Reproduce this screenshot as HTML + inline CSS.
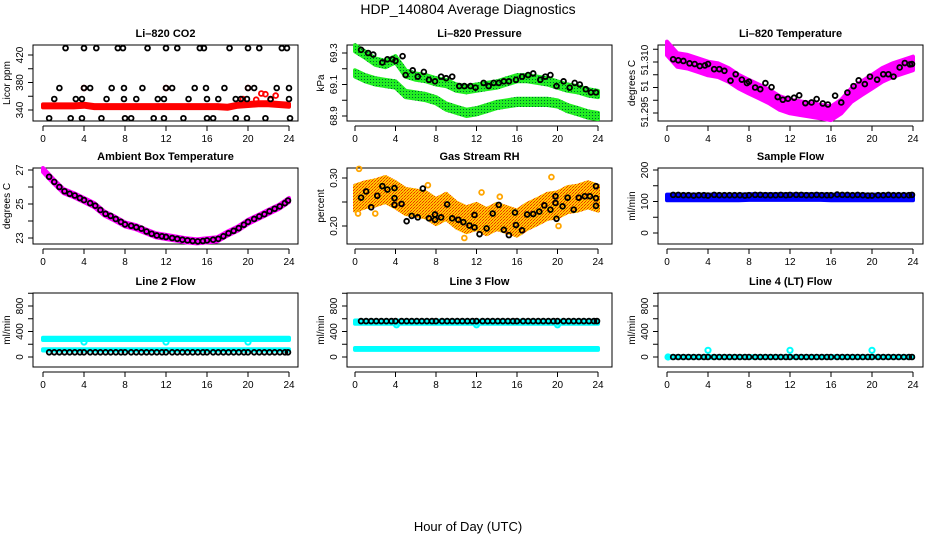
<!DOCTYPE html>
<html><head><meta charset="utf-8"><style>
html,body{margin:0;padding:0;background:#fff;}
svg{display:block;font-family:"Liberation Sans",sans-serif;}
</style></head><body>
<svg id="chart" width="936" height="540" viewBox="0 0 936 540">
<defs>
<pattern id="greenPat" width="3" height="3" patternUnits="userSpaceOnUse"><rect width="3" height="3" fill="#22ee22"/><rect x="1" y="1" width="1" height="1" fill="#063"/></pattern>
<pattern id="rhPat" width="3" height="3" patternUnits="userSpaceOnUse"><rect width="3" height="3" fill="#ffc800"/><rect width="1" height="1" fill="#f03000"/><rect x="2" y="1" width="1" height="1" fill="#f03000"/><rect x="1" y="2" width="1" height="1" fill="#f07000"/></pattern>
</defs>
<text x="468" y="14" text-anchor="middle" font-size="14">HDP_140804  Average Diagnostics</text>
<text x="468" y="531" text-anchor="middle" font-size="13">Hour of Day (UTC)</text>
</svg>
<script>
// ---------- data ----------
const HOURS = [0,1,2,3,4,5,6,7,8,9,10,11,12,13,14,15,16,17,18,19,20,21,22,23,24];
const BLACK_T = [0.6,1.1,1.6,2.1,2.6,3.1,3.6,4.0,4.6,5.1,5.6,6.1,6.6,7.1,7.6,8.0,8.6,9.1,9.6,10.1,10.6,11.1,11.6,12.0,12.6,13.1,13.6,14.1,14.6,15.1,15.6,16.0,16.6,17.1,17.6,18.1,18.6,19.1,19.6,20.0,20.6,21.1,21.6,22.1,22.6,23.1,23.6,23.9];
const X_TICKS = [0,4,8,12,16,20,24];

// CO2
const CO2_RED = [346,346,346,346,347,345,345,345,345,345,345,345,345,345,345,345,345,345,344,347,348,349,349,348,347];
const CO2_RED_OUT_T = [4.0,12.0,20.0,21.3,21.7,22.7,19.5,20.8,22.2];
const CO2_RED_OUT_V = [372,372,372,364,363,361,356,355,355];
const CO2_BLK_T = [2.2,4.0,5.2,7.3,7.8,10.2,12.0,13.1,15.3,15.7,18.2,20.0,21.1,23.3,23.8,
 1.6,4.0,4.6,6.7,7.9,9.7,12.0,12.6,14.8,15.9,17.7,20.0,20.6,22.8,24.0,
 1.1,3.2,3.8,6.2,7.9,9.1,11.2,11.8,14.2,16.0,17.1,18.8,19.3,19.9,22.2,24.0,
 0.6,2.7,3.8,5.7,8.0,8.6,10.8,11.8,13.7,16.0,16.6,18.8,19.9,21.7,24.1];
const CO2_BLK_V = [430,430,430,430,430,430,430,430,430,430,430,430,430,430,430,
 372,372,372,372,372,372,372,372,372,372,372,372,372,372,372,
 356,356,356,356,356,356,356,356,356,356,356,356,356,356,356,356,
 328,328,328,328,328,328,328,328,328,328,328,328,328,328,328];

// Pressure
const P_UP = [69.33,69.29,69.245,69.23,69.26,69.17,69.15,69.14,69.12,69.11,69.08,69.07,69.08,69.09,69.10,69.12,69.14,69.14,69.13,69.12,69.10,69.08,69.07,69.05,69.04];
const P_LOW = [69.17,69.14,69.12,69.11,69.10,69.04,69.03,69.02,69.0,68.96,68.94,68.92,68.93,68.95,68.97,68.98,68.99,68.99,68.99,68.99,68.98,68.95,68.93,68.91,68.90];
const P_BLK_T = [0.6,1.3,1.8,2.7,3.2,3.7,4.0,4.7,5.0,5.7,6.2,6.8,7.3,7.9,8.5,9.0,9.6,10.3,10.8,11.4,11.9,12.7,13.2,13.7,14.2,14.7,15.2,15.9,16.5,17.1,17.6,18.3,18.8,19.3,19.9,20.6,21.2,21.7,22.2,22.8,23.3,23.8];
const P_BLK_V = [69.32,69.30,69.29,69.24,69.26,69.26,69.25,69.28,69.16,69.19,69.15,69.18,69.13,69.12,69.15,69.14,69.15,69.09,69.09,69.09,69.08,69.11,69.09,69.11,69.11,69.12,69.12,69.13,69.15,69.16,69.17,69.13,69.15,69.16,69.09,69.12,69.08,69.11,69.10,69.07,69.05,69.05];

// Li-820 temperature
const T_MAG = [51.314,51.3106,51.3101,51.3091,51.3081,51.3076,51.3062,51.3042,51.3027,51.3013,51.2998,51.2979,51.2969,51.2964,51.2959,51.2954,51.2949,51.2969,51.3003,51.3023,51.3042,51.3062,51.3076,51.3086,51.3096];
const T_BLK_T = [0.6,1.1,1.6,2.2,2.7,3.2,3.7,4.0,4.6,5.1,5.6,6.2,6.7,7.3,7.8,8.0,8.6,9.1,9.6,10.2,10.8,11.3,11.8,12.4,12.9,13.5,14.1,14.6,15.2,15.7,16.4,17.0,17.6,18.2,18.7,19.3,19.8,20.5,21.1,21.6,22.1,22.7,23.2,23.7,23.9];
const T_BLK_V = [51.3108,51.3105,51.3103,51.3096,51.3094,51.3088,51.309,51.3094,51.3079,51.3079,51.3074,51.3045,51.3064,51.3048,51.3038,51.3042,51.3025,51.302,51.3038,51.3026,51.2997,51.2989,51.2992,51.2995,51.3002,51.2979,51.2981,51.2991,51.2978,51.2975,51.3001,51.2981,51.301,51.3029,51.3046,51.3035,51.3057,51.3048,51.3064,51.3064,51.3057,51.3084,51.3097,51.3093,51.3094];
const T_TICKS = [51.295,51.29875,51.3025,51.30625,51.31,51.31375];

// Ambient box temperature
const AMB_MAG = [27.0,26.35,25.76,25.52,25.23,24.93,24.44,24.14,23.8,23.65,23.4,23.16,23.06,22.96,22.86,22.8,22.86,22.92,23.26,23.55,23.95,24.24,24.54,24.83,25.23];
const AMB_BLK = [26.6,26.3,26.0,25.75,25.6,25.5,25.35,25.23,25.05,24.9,24.65,24.42,24.3,24.12,23.95,23.8,23.72,23.63,23.55,23.38,23.25,23.15,23.1,23.06,23.0,22.95,22.9,22.86,22.82,22.8,22.82,22.86,22.9,22.95,23.1,23.28,23.42,23.58,23.78,23.95,24.12,24.27,24.4,24.57,24.72,24.86,25.05,25.2];

// Gas stream RH
const RH_BAND = [0.258,0.265,0.269,0.276,0.265,0.251,0.248,0.244,0.23,0.241,0.223,0.213,0.22,0.209,0.22,0.213,0.206,0.22,0.23,0.241,0.244,0.255,0.258,0.265,0.258];
const RH_OUT_T = [0.4,0.3,2.0,7.2,10.8,14.3,19.4,20.1,12.5];
const RH_OUT_V = [0.319,0.226,0.226,0.285,0.175,0.261,0.302,0.2,0.27];
const RH_BLK_T = [0.6,1.1,1.6,2.2,2.7,3.2,3.9,3.9,3.9,4.6,5.1,5.6,6.2,6.7,7.3,7.9,7.9,8.5,9.1,9.6,10.2,10.7,11.3,11.8,11.8,12.3,13.0,13.6,14.2,14.7,15.2,15.8,15.9,16.5,17.0,17.6,18.2,18.7,19.3,19.8,19.8,19.9,20.5,21.0,21.6,22.1,22.7,23.2,23.8,23.8,23.8];
const RH_BLK_V = [0.259,0.272,0.239,0.263,0.283,0.276,0.279,0.258,0.244,0.246,0.21,0.221,0.218,0.278,0.216,0.224,0.213,0.218,0.245,0.216,0.213,0.208,0.201,0.223,0.197,0.183,0.195,0.226,0.244,0.192,0.181,0.228,0.202,0.191,0.224,0.225,0.23,0.243,0.234,0.248,0.262,0.215,0.241,0.259,0.234,0.259,0.262,0.262,0.283,0.258,0.242];

// Sample flow
const SF_BLUE = [113,113,113,113,113,113,113,113,114,114,114,114,114,114,114,114,113,113,113,113,113,113,113,113,113];
const SF_BLK = [121,121,120,120,119,120,120,119,121,120,120,120,120,120,119,120,121,121,120,120,120,121,120,121,121,121,120,120,121,120,120,120,122,121,121,120,121,120,119,119,120,120,121,120,120,120,120,121];

// Line 2 flow
const L2_CY_HI = [285,285,285,285,285,285,285,285,285,285,285,285,285,285,285,285,285,285,285,285,285,285,285,285,285];
const L2_CY_LO = [112,112,112,112,112,112,112,112,112,112,112,112,112,112,112,112,112,112,112,112,112,112,112,112,112];
const L2_DIP_T = [4.0,12.0,20.0];
const L2_DIP_V = [235,235,235];
const L2_BLK = [74,74,74,74,74,74,74,74,74,74,74,74,74,74,74,74,74,74,74,74,74,74,74,74,74,74,74,74,74,74,74,74,74,74,74,74,74,74,74,74,74,74,74,74,74,74,74,74];

// Line 3 flow
const L3_CY_HI = [548,548,548,548,548,548,548,548,548,548,548,548,548,548,548,548,548,548,548,548,548,548,548,548,548];
const L3_CY_LO = [126,126,126,126,126,126,126,126,126,126,126,126,126,126,126,126,126,126,126,126,126,126,126,126,126];
const L3_DIP_T = [4.1,12.0,20.0];
const L3_DIP_V = [505,505,505];
const L3_BLK = [563,563,563,563,563,563,563,563,563,563,563,563,563,563,563,563,563,563,563,563,563,563,563,563,563,563,563,563,563,563,563,563,563,563,563,563,563,563,563,563,563,563,563,563,563,563,563,563];

// Line 4 flow
const L4_CY = [0,0,0,0,0,0,0,0,0,0,0,0,0,0,0,0,0,0,0,0,0,0,0,0,0];
const L4_OUT_T = [0.1,4.0,12.0,20.0];
const L4_OUT_V = [0,105,105,105];
const L4_BLK = [0,0,0,0,0,0,0,0,0,0,0,0,0,0,0,0,0,0,0,0,0,0,0,0,0,0,0,0,0,0,0,0,0,0,0,0,0,0,0,0,0,0,0,0,0,0,0,0];

// ---------- drawing ----------
const NS = 'http://www.w3.org/2000/svg';
const svg = document.getElementById('chart');
function mk(tag, attrs, parent){
  const e = document.createElementNS(NS, tag);
  for (const k in attrs) e.setAttribute(k, attrs[k]);
  (parent||svg).appendChild(e);
  return e;
}
const COLS = [{l:33,r:298,x0:43,x24:289},{l:347,r:612,x0:355,x24:598},{l:658,r:923,x0:667,x24:913}];
const ROWS = [{t:45,b:121},{t:168,b:244},{t:293,b:367}];

function panel(name, col, row, title, ylab, y0v, y0p, y1v, y1p, yticks, ylabels){
  const C = COLS[col], R = ROWS[row];
  const g = mk('g', {});
  
  
  const sx = h => C.x0 + (h/24)*(C.x24 - C.x0);
  const sy = v => y0p + (v - y0v)/(y1v - y0v)*(y1p - y0p);
  const t = mk('text', {x:(C.l+C.r)/2, y:R.t-8, 'text-anchor':'middle', 'font-size':11, 'font-weight':'bold'}, g);
  t.textContent = title;
  
  
  const box = mk('rect', {x:C.l, y:R.t, width:C.r-C.l, height:R.b-R.t, fill:'none', stroke:'#000', 'stroke-width':1}, g);
  
  
  const xa = mk('g', {}, g);
  
  
  const ay = R.b + 5;
  mk('line', {x1:sx(0), x2:sx(24), y1:ay, y2:ay, stroke:'#000'}, xa);
  X_TICKS.forEach(h => {
    mk('line', {x1:sx(h), x2:sx(h), y1:ay, y2:ay+5, stroke:'#000'}, xa);
    const tl = mk('text', {x:sx(h), y:R.b+21, 'text-anchor':'middle', 'font-size':10}, xa);
    tl.textContent = String(h);
    
    
  });
  const ya = mk('g', {}, g);
  
  
  yticks.forEach(v => mk('line', {x1:C.l-5, x2:C.l, y1:sy(v), y2:sy(v), stroke:'#000'}, ya));
  ylabels.forEach(o => {
    const yy = o.p !== undefined ? o.p : sy(o.v);
    const tl = mk('text', {x:0, y:0, 'text-anchor':'middle', 'font-size':10, transform:'translate(' + (C.l-10) + ',' + yy + ') rotate(-90)'}, ya);
    tl.textContent = o.t;
    
    
  });
  const yt = mk('text', {x:0, y:0, 'text-anchor':'middle', 'font-size':10, transform:'translate(' + (C.l-23) + ',' + ((R.t+R.b)/2) + ') rotate(-90)'}, g);
  yt.textContent = ylab;
  
  
  const plot = mk('g', {}, g);
  
  
  return {sx, sy, plot};
}
function band(P, name, centers, hw, fill){
  const up = HOURS.map((h,i) => P.sx(h).toFixed(1) + ',' + P.sy(centers[i]+hw).toFixed(1));
  const dn = HOURS.map((h,i) => P.sx(h).toFixed(1) + ',' + P.sy(centers[i]-hw).toFixed(1)).reverse();
  const poly = mk('polygon', {points: up.concat(dn).join(' '), fill: fill, stroke: fill, 'stroke-width':4, 'stroke-linejoin':'round'}, P.plot);
  
  
}
function pts(P, name, ts, vs, color, r, w){
  ts.forEach((h,i) => {
    const c = mk('circle', {cx:P.sx(h), cy:P.sy(vs[i]), r:r||2.4, fill:'none', stroke:color, 'stroke-width':w||1.8}, P.plot);
    
    
  });
}

let P = panel('co2', 0, 0, 'Li–820 CO2', 'Licor ppm', 340, 110, 420, 55, [340,360,380,400,420], [{v:340,t:'340'},{v:380,t:'380'},{v:420,t:'420'}]);
band(P, 'co2-red-band', CO2_RED, 2.2, '#ff0000');
pts(P, 'co2-red-point', CO2_RED_OUT_T, CO2_RED_OUT_V, '#ff0000');
pts(P, 'co2-black-point', CO2_BLK_T, CO2_BLK_V, '#000');

P = panel('pressure', 1, 0, 'Li–820 Pressure', 'kPa', 69.3, 53, 68.9, 116, [68.9,69.0,69.1,69.2,69.3], [{v:68.9,t:'68.9'},{v:69.1,t:'69.1'},{v:69.3,t:'69.3'}]);
band(P, 'pressure-upper-band', P_UP, 0.02, 'url(#greenPat)');
band(P, 'pressure-lower-band', P_LOW, 0.02, 'url(#greenPat)');
pts(P, 'pressure-black-point', P_BLK_T, P_BLK_V, '#000');

P = panel('li820-temp', 2, 0, 'Li–820 Temperature', 'degrees C', 51.295, 113, 51.31, 62, T_TICKS, [{p:112,t:'51.295'},{p:86,t:'51'},{p:60,t:'51.310'}]);
band(P, 'li820-temp-magenta-band', T_MAG, 0.002, '#ff00ff');
pts(P, 'li820-temp-black-point', T_BLK_T, T_BLK_V, '#000');

P = panel('ambient-temp', 0, 1, 'Ambient Box Temperature', 'degrees C', 27, 170, 23, 238, [23,24,25,26,27], [{v:23,t:'23'},{v:25,t:'25'},{v:27,t:'27'}]);
band(P, 'ambient-magenta-band', AMB_MAG, 0.12, '#ff00ff');
pts(P, 'ambient-black-point', BLACK_T, AMB_BLK, '#000');

P = panel('rh', 1, 1, 'Gas Stream RH', 'percent', 0.30, 178, 0.20, 226, [0.20,0.25,0.30], [{v:0.20,t:'0.20'},{v:0.30,t:'0.30'}]);
band(P, 'rh-orange-band', RH_BAND, 0.026, 'url(#rhPat)');
pts(P, 'rh-orange-point', RH_OUT_T, RH_OUT_V, '#ffa500');
pts(P, 'rh-black-point', RH_BLK_T, RH_BLK_V, '#000');

P = panel('sample-flow', 2, 1, 'Sample Flow', 'ml/min', 0, 233, 200, 170, [0,50,100,150,200], [{v:0,t:'0'},{v:100,t:'100'},{v:200,t:'200'}]);
band(P, 'sample-flow-blue-band', SF_BLUE, 9, '#0000ff');
pts(P, 'sample-flow-black-point', BLACK_T, SF_BLK, '#000');

P = panel('line2-flow', 0, 2, 'Line 2 Flow', 'ml/min', 0, 357, 800, 306, [0,200,400,600,800,1000], [{v:0,t:'0'},{v:400,t:'400'},{v:800,t:'800'}]);
band(P, 'line2-cyan-high-band', L2_CY_HI, 18, '#00ffff');
band(P, 'line2-cyan-low-band', L2_CY_LO, 10, '#00ffff');
pts(P, 'line2-cyan-point', L2_DIP_T, L2_DIP_V, '#00ffff', 2.6, 2);
pts(P, 'line2-black-point', BLACK_T, L2_BLK, '#000');

P = panel('line3-flow', 1, 2, 'Line 3 Flow', 'ml/min', 0, 357, 800, 306, [0,200,400,600,800,1000], [{v:0,t:'0'},{v:400,t:'400'},{v:800,t:'800'}]);
band(P, 'line3-cyan-high-band', L3_CY_HI, 25, '#00ffff');
band(P, 'line3-cyan-low-band', L3_CY_LO, 15, '#00ffff');
pts(P, 'line3-cyan-point', L3_DIP_T, L3_DIP_V, '#00ffff', 2.6, 2);
pts(P, 'line3-black-point', BLACK_T, L3_BLK, '#000');

P = panel('line4-flow', 2, 2, 'Line 4 (LT) Flow', 'ml/min', 0, 357, 800, 306, [0,200,400,600,800,1000], [{v:0,t:'0'},{v:400,t:'400'},{v:800,t:'800'}]);
band(P, 'line4-cyan-band', L4_CY, 12, '#00ffff');
pts(P, 'line4-cyan-point', L4_OUT_T, L4_OUT_V, '#00ffff', 2.6, 2);
pts(P, 'line4-black-point', BLACK_T, L4_BLK, '#000');
</script>
</body></html>
